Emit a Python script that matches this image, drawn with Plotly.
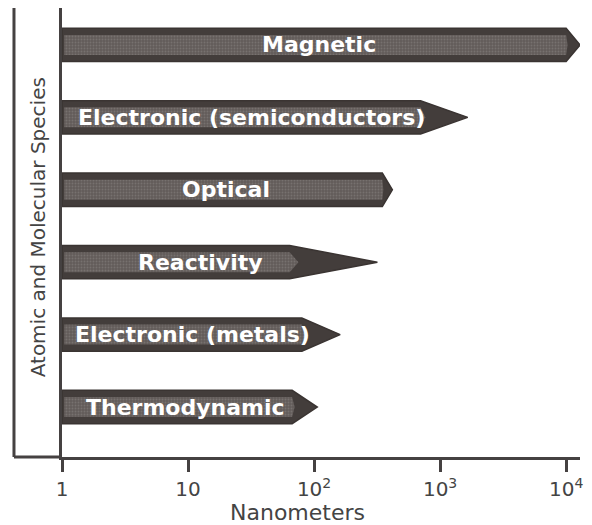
import math
import plotly.graph_objects as go

# ---- data (bottom to top) ----
properties = ["Thermodynamic", "Electronic (metals)", "Reactivity", "Optical",
              "Electronic (semiconductors)", "Magnetic"]
body_end_nm = [67, 80, 64, 348, 700, 10000]      # where the full-width shaft ends
tip_nm = [106, 161, 318, 418, 1656, 12900]       # arrow tip
label_center_nm = [9.5, 10.8, 12.5, 20, 31.6, 109]

tick_vals = [1, 10, 100, 1000, 10000]
tick_text = ["1", "10", "10<sup>2</sup>", "10<sup>3</sup>", "10<sup>4</sup>"]

x_title = "Nanometers"
y_title = "Atomic and Molecular Species"

# ---- styling ----
FONT = "DejaVu Sans"
TXT = "#444444"
LINE = "#454141"
DARK = "#433d3b"
MID = "#625c5a"
h = 0.23

fig = go.Figure()
for i, (name, be, tp) in enumerate(zip(properties, body_end_nm, tip_nm)):
    xs = [1, be, tp, be, 1, 1]
    ys = [i - h, i - h, i, i + h, i + h, i - h]
    fig.add_trace(go.Scatter(
        x=xs, y=ys, mode="lines", fill="toself",
        fillcolor=DARK, line=dict(color="#3a3432", width=1.5),
        hoverinfo="skip", showlegend=False))
    # lighter mottled core
    hi = h * 0.6
    core_end = be * (tp / be) ** 0.1
    xs2 = [1.04, be, core_end, be, 1.04, 1.04]
    ys2 = [i - hi, i - hi, i, i + hi, i + hi, i - hi]
    fig.add_trace(go.Scatter(
        x=xs2, y=ys2, mode="lines", fill="toself",
        fillcolor=MID, line=dict(width=0),
        fillpattern=dict(shape=".", fgcolor="#8c8683", bgcolor=MID,
                         size=3, solidity=0.3),
        hoverinfo="skip", showlegend=False))

annotations = []
for i, (name, lc) in enumerate(zip(properties, label_center_nm)):
    annotations.append(dict(
        x=math.log10(lc), y=i, xref="x", yref="y", text=name,
        showarrow=False, xanchor="center", yanchor="middle",
        font=dict(family=FONT, size=22, color="white", weight=700)))

annotations.append(dict(
    x=-0.046, y=0.512, xref="paper", yref="paper", text=y_title,
    textangle=-90, showarrow=False, xanchor="center", yanchor="middle",
    font=dict(family=FONT, size=20, color=TXT)))
annotations.append(dict(
    x=0.454, y=-0.1225, xref="paper", yref="paper", text=x_title,
    showarrow=False, xanchor="center", yanchor="middle",
    font=dict(family=FONT, size=22, color=TXT)))

shapes = [
    dict(type="line", xref="paper", yref="paper", x0=-0.0927, x1=-0.0927,
         y0=0, y1=1, line=dict(color=LINE, width=3)),
    dict(type="line", xref="paper", yref="paper", x0=-0.0927, x1=0,
         y0=0, y1=0, line=dict(color=LINE, width=3)),
]

# page body has an 8px default margin, so the figure is 8px smaller
fig.update_layout(
    width=584, height=517,
    margin=dict(l=54, r=12, t=0, b=68),
    paper_bgcolor="white", plot_bgcolor="white",
    annotations=annotations, shapes=shapes,
    xaxis=dict(type="log", range=[0, 4.11], tickvals=tick_vals, ticktext=tick_text,
               showline=True, linecolor=LINE, linewidth=3, ticks="outside",
               ticklen=12, tickwidth=3, tickcolor=LINE, showgrid=False,
               zeroline=False, tickfont=dict(family=FONT, size=20, color=TXT)),
    yaxis=dict(range=[-0.69, 5.51], showline=True, linecolor=LINE, linewidth=3,
               showticklabels=False, ticks="", showgrid=False, zeroline=False),
)

fig.write_html("out.html")
